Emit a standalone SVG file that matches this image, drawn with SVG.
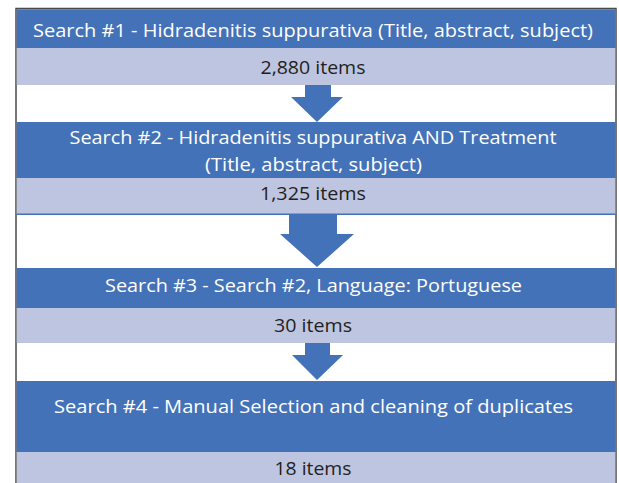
<svg xmlns="http://www.w3.org/2000/svg" width="619" height="483" viewBox="0 0 619 483">
<style>
.blue{fill:#4472b8}
.light{fill:#bec5e1}
.arrow{fill:#4472b8}
.t{font-family:"Open Sans","Noto Sans","Liberation Sans",sans-serif;font-size:18.5px;text-anchor:middle}
.w{fill:#ffffff}
.d{fill:#231f20}
</style>
<rect x="0" y="0" width="619" height="483" fill="#ffffff"/>
<g id="frame">
<path d="M16,483 V8.5 H616 V483" fill="none" stroke="#4a4a4a" stroke-width="1.5"/>
</g>
<g id="search1">
<rect class="blue" x="16.75" y="9.25" width="598.5" height="38.75"/>
<text class="t w" x="313" y="37" textLength="560" lengthAdjust="spacingAndGlyphs">Search #1 - Hidradenitis suppurativa (Title, abstract, subject)</text>
</g>
<g id="result1">
<rect class="light" x="16.75" y="48" width="598.5" height="37"/>
<text class="t d" x="313" y="74" textLength="105" lengthAdjust="spacingAndGlyphs">2,880 items</text>
</g>
<g id="search2">
<rect class="blue" x="16.75" y="122" width="598.5" height="56"/>
<text class="t w" x="313" y="144" textLength="487" lengthAdjust="spacingAndGlyphs">Search #2 - Hidradenitis suppurativa AND Treatment</text>
<text class="t w" x="313.5" y="171" textLength="217" lengthAdjust="spacingAndGlyphs">(Title, abstract, subject)</text>
</g>
<g id="result2">
<rect class="light" x="16.75" y="178" width="598.5" height="36"/>
<rect class="blue" x="16.75" y="213.5" width="598.5" height="1.5"/>
<text class="t d" x="313" y="200" textLength="106" lengthAdjust="spacingAndGlyphs">1,325 items</text>
</g>
<g id="search3">
<rect class="blue" x="16.75" y="268" width="598.5" height="40"/>
<text class="t w" x="313.5" y="292" textLength="417" lengthAdjust="spacingAndGlyphs">Search #3 - Search #2, Language: Portuguese</text>
</g>
<g id="result3">
<rect class="light" x="16.75" y="308" width="598.5" height="35"/>
<text class="t d" x="313" y="332" textLength="78" lengthAdjust="spacingAndGlyphs">30 items</text>
</g>
<g id="search4">
<rect class="blue" x="16.75" y="381" width="598.5" height="71"/>
<text class="t w" x="313.5" y="413" textLength="519" lengthAdjust="spacingAndGlyphs">Search #4 - Manual Selection and cleaning of duplicates</text>
</g>
<g id="result4">
<rect class="light" x="16.75" y="452" width="598.5" height="31"/>
<text class="t d" x="313" y="475" textLength="77" lengthAdjust="spacingAndGlyphs">18 items</text>
</g>
<g id="connectors">
<polygon class="arrow" points="305,85 331,85 331,97 343,97 317,122 291,97 305,97"/>
<polygon class="arrow" points="289,215 337,215 337,234 354,234 317,267 280,234 289,234"/>
<polygon class="arrow" points="305,343 330,343 330,355 343,355 317,380 292,355 305,355"/>
</g>
</svg>
